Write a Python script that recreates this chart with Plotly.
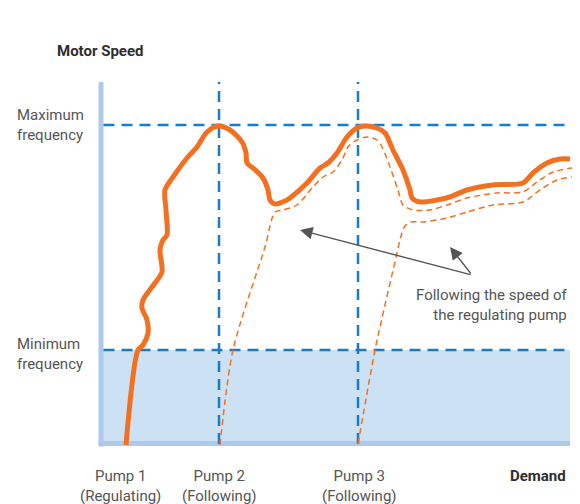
import plotly.graph_objects as go

# ---- data (demand on x, motor speed on y; arbitrary diagram units) ----
main_demand = [26, 38, 43, 48, 47, 42, 43, 55, 62, 60, 63, 67, 66, 65, 73, 87, 97, 107, 118, 130,
               142, 146, 147, 153, 163, 168, 170, 175, 187, 190, 207, 220, 228, 237, 247, 257, 265, 277, 285, 293,
               303, 310, 312, 320, 337, 350, 367, 393, 423, 433, 447, 460, 470]
main_speed = [-1, 94, 99, 111, 124, 136, 144, 161, 172, 194, 204, 209, 234, 254, 267, 286, 297, 312, 318, 314,
              302, 291, 281, 276, 266, 254, 244, 240, 244, 246, 261, 276, 281, 291, 307, 316, 318, 316, 311, 294,
              274, 254, 246, 242, 244, 247, 254, 259, 261, 271, 281, 285, 285]

follow2_demand = [120, 133, 165, 175, 183, 197, 212, 223, 233, 242, 248, 257, 267, 277, 282, 290, 298, 303, 313, 330,
                  347, 367, 397, 423, 437, 453, 472]
follow2_speed = [-1, 94, 197, 232, 234, 239, 256, 267, 272, 284, 297, 304, 307, 304, 297, 277, 254, 239, 234, 234,
                 239, 246, 251, 252, 262, 272, 276]

follow3_demand = [258, 275, 280, 297, 301, 305, 311, 323, 347, 367, 393, 423, 440, 457, 472]
follow3_speed = [0, 94, 117, 191, 208, 218, 222, 222, 226, 232, 239, 242, 254, 264, 267]

max_frequency = 319
min_frequency = 94
pump_start_demand = [119, 258]          # pump 2, pump 3 switch-on
pump_label_demand = [20.5, 119.5, 259]
pump_labels = ["Pump 1<br>(Regulating)", "Pump 2<br>(Following)", "Pump 3<br>(Following)"]
axis_top = 362
axis_right = 470

X_RANGE = [-4, 472]
Y_RANGE = [-3, 364]

ORANGE = "#f37021"
BLUE = "#1a7cc6"
AXIS = "#aecaea"
FILL = "#cde1f4"
TEXT = "#555555"
DARK = "#2e2e2e"
FONT = "Roboto"


def px(d):
    return (d - X_RANGE[0]) / (X_RANGE[1] - X_RANGE[0])


def py(s):
    return (s - Y_RANGE[0]) / (Y_RANGE[1] - Y_RANGE[0])


fig = go.Figure()

fig.add_trace(go.Scatter(x=follow2_demand, y=follow2_speed, mode="lines",
                         line=dict(color=ORANGE, width=1.5, dash="6px,4px", shape="spline", smoothing=0.8),
                         hoverinfo="skip"))
fig.add_trace(go.Scatter(x=follow3_demand, y=follow3_speed, mode="lines",
                         line=dict(color=ORANGE, width=1.5, dash="6px,4px", shape="spline", smoothing=0.8),
                         hoverinfo="skip"))
fig.add_trace(go.Scatter(x=main_demand, y=main_speed, mode="lines",
                         line=dict(color=ORANGE, width=5, shape="spline", smoothing=0.8),
                         hoverinfo="skip"))

shapes = []
shapes.append(dict(type="rect", xref="x", yref="y", x0=1, x1=axis_right, y0=0, y1=min_frequency,
                   fillcolor=FILL, line=dict(width=0), layer="below"))
shapes.append(dict(type="line", xref="x", yref="y", x0=-1.5, x1=axis_right, y0=0.5, y1=0.5,
                   line=dict(color=AXIS, width=5), layer="below"))
shapes.append(dict(type="line", xref="x", yref="y", x0=1, x1=1, y0=-2.5, y1=axis_top,
                   line=dict(color=AXIS, width=5), layer="below"))
for f in (max_frequency, min_frequency):
    shapes.append(dict(type="line", xref="x", yref="y", x0=3.5, x1=axis_right, y0=f, y1=f,
                       line=dict(color=BLUE, width=2.5, dash="11px,7px"), layer="below"))
for d in pump_start_demand:
    shapes.append(dict(type="line", xref="x", yref="y", x0=d, x1=d, y0=0, y1=axis_top,
                       line=dict(color=BLUE, width=2.5, dash="11px,7px"), layer="below"))

ann = []


def label(text, d, s, xanchor="center", align="center", color=TEXT):
    ann.append(dict(text=text, x=px(d), y=py(s), xref="paper", yref="paper", showarrow=False,
                    font=dict(family=FONT, size=15, color=color), xanchor=xanchor, yanchor="middle",
                    align=align))


label("<b>Motor Speed</b>", 0.5, 392.5, color=DARK)
label("Maximum<br>frequency", -85, max_frequency, xanchor="left", align="left")
label("Minimum<br>frequency", -85, min_frequency - 4, xanchor="left", align="left")
for lx, lt in zip(pump_label_demand, pump_labels):
    label(lt, lx, -42)
label("<b>Demand</b>", 468, -32, xanchor="right", color=DARK)
label("Following the speed of<br>the regulating pump", 470, 139, xanchor="right", align="right")

arrow_tail = (372, 169)
arrow_heads = [(200, 214), (350, 197)]
for hx, hy in arrow_heads:
    ann.append(dict(text="", x=hx, y=hy, ax=arrow_tail[0], ay=arrow_tail[1],
                    xref="x", yref="y", axref="x", ayref="y", showarrow=True,
                    arrowhead=2, arrowsize=1.8, arrowwidth=1.4, arrowcolor="#555555", standoff=0))

fig.update_layout(
    width=572, height=496,
    margin=dict(l=88, r=8, t=72, b=57),
    paper_bgcolor="white", plot_bgcolor="white",
    showlegend=False,
    shapes=shapes, annotations=ann,
    xaxis=dict(range=X_RANGE, visible=False, fixedrange=True),
    yaxis=dict(range=Y_RANGE, visible=False, fixedrange=True),
)

fig.write_html("out.html")
